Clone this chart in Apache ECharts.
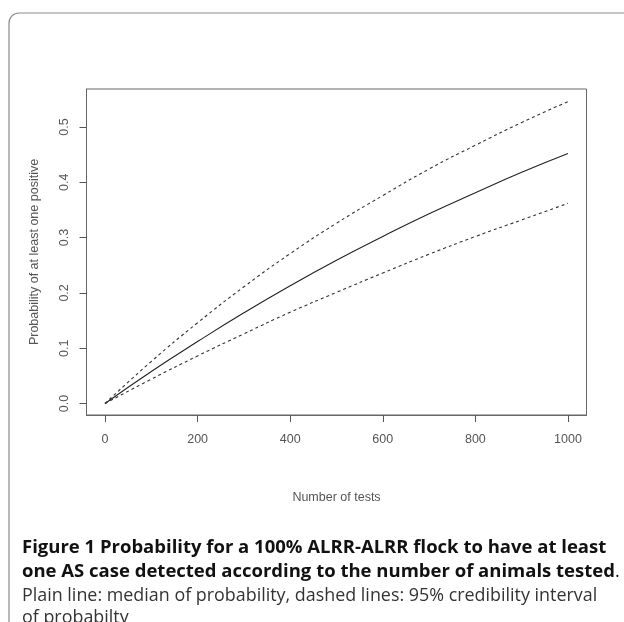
<!DOCTYPE html>
<html><head><meta charset="utf-8">
<script src="https://cdn.jsdelivr.net/npm/echarts@6/dist/echarts.min.js"></script>
<style>html,body{margin:0;padding:0;background:#fff}#c{width:624px;height:622px}</style>
</head><body><div id="c"></div>
<script>
// Number of animals tested
const tests = [0, 100, 200, 300, 400, 500, 600, 700, 800, 900, 1000];
// Median probability of at least one positive
const median = [0, 0.058, 0.112, 0.164, 0.213, 0.259, 0.302, 0.343, 0.381, 0.418, 0.452];
// Upper bound of 95% credibility interval
const upper = [0, 0.076, 0.146, 0.211, 0.271, 0.326, 0.376, 0.424, 0.467, 0.508, 0.546];
// Lower bound of 95% credibility interval
const lower = [0, 0.044, 0.086, 0.126, 0.165, 0.201, 0.236, 0.270, 0.302, 0.332, 0.362];

// Tick labels
const xTicks = [0, 200, 400, 600, 800, 1000];
const yTicks = [0, 0.1, 0.2, 0.3, 0.4, 0.5];
// Axis extents (R style 4% padding around the data range)
const xRange = [-40, 1040];
const yRange = [-0.0208, 0.5687];

const xTitle = 'Number of tests';
const yTitle = 'Probability of at least one positive';
const captionBold1 = 'Figure 1 Probability for a 100% ALRR-ALRR flock to have at least';
const captionBold2 = 'one AS case detected according to the number of animals tested';
const captionPlain1 = 'Plain line: median of probability, dashed lines: 95% credibility interval';
const captionPlain2 = 'of probabilty';

const pairs = ys => tests.map((t, i) => [t, ys[i]]);
const axisGray = '#555';
const font = 'Liberation Sans';
const boldFont = 'bold 18.5px "Open Sans"';
const plainFont = '17.9px "Open Sans"';

const chart = echarts.init(document.getElementById('c'), null, {renderer: 'canvas'});
chart.setOption({
  animation: false,
  backgroundColor: '#fff',
  grid: [
    {left: 86.5, right: 37.5, top: 89, bottom: 207, containLabel: false,
     show: true, borderColor: '#666', borderWidth: 1, backgroundColor: 'transparent'}
  ],
  xAxis: [{
    type: 'value', min: xRange[0], max: xRange[1], position: 'bottom',
    axisLine: {show: true, onZero: false, lineStyle: {color: '#666', width: 1}},
    axisTick: {show: true, inside: false, length: 7, customValues: xTicks, lineStyle: {color: axisGray, width: 1}},
    axisLabel: {margin: 18, fontSize: 12.5, color: axisGray, fontFamily: font,
                customValues: xTicks, formatter: v => String(v)},
    splitLine: {show: false},
    name: xTitle, nameLocation: 'middle', nameGap: 76,
    nameTextStyle: {fontSize: 12.5, color: axisGray, fontFamily: font}
  }],
  yAxis: [{
    type: 'value', min: yRange[0], max: yRange[1], position: 'left',
    axisLine: {show: true, onZero: false, lineStyle: {color: '#666', width: 1}},
    axisTick: {show: true, inside: false, length: 7, customValues: yTicks, lineStyle: {color: axisGray, width: 1}},
    axisLabel: {margin: 15, rotate: 90, fontSize: 12.5, color: axisGray, fontFamily: font,
                customValues: yTicks, formatter: v => v.toFixed(1)},
    splitLine: {show: false},
    name: yTitle, nameLocation: 'middle', nameGap: 45,
    nameTextStyle: {fontSize: 12.5, color: axisGray, fontFamily: font}
  }],
  series: [
    {type: 'line', name: 'upper', data: pairs(upper), smooth: true,
     showSymbol: false, lineStyle: {color: '#333', width: 1.1, type: [3, 3]}},
    {type: 'line', name: 'median', data: pairs(median), smooth: true,
     showSymbol: false, lineStyle: {color: '#222', width: 1.1, type: 'solid'}},
    {type: 'line', name: 'lower', data: pairs(lower), smooth: true,
     showSymbol: false, lineStyle: {color: '#333', width: 1.1, type: [3, 3]}}
  ],
  graphic: [
    {type: 'rect', shape: {x: 9, y: 13, width: 800, height: 800, r: 10},
     style: {fill: 'none', stroke: '#8a8a8a', lineWidth: 1.2}, silent: true},
    {type: 'text', x: 22, y: 548, style: {text: captionBold1, font: boldFont, fill: '#111', verticalAlign: 'middle'}},
    {type: 'text', x: 22, y: 572, style: {
      text: '{b|' + captionBold2 + '}{n|.}',
      verticalAlign: 'middle',
      rich: {b: {font: boldFont, fill: '#111'}, n: {font: plainFont, fill: '#111'}}
    }},
    {type: 'text', x: 22, y: 596, style: {text: captionPlain1, font: plainFont, fill: '#333', verticalAlign: 'middle'}},
    {type: 'text', x: 22, y: 618, style: {text: captionPlain2, font: plainFont, fill: '#333', verticalAlign: 'middle'}}
  ]
});
</script>
</body></html>
